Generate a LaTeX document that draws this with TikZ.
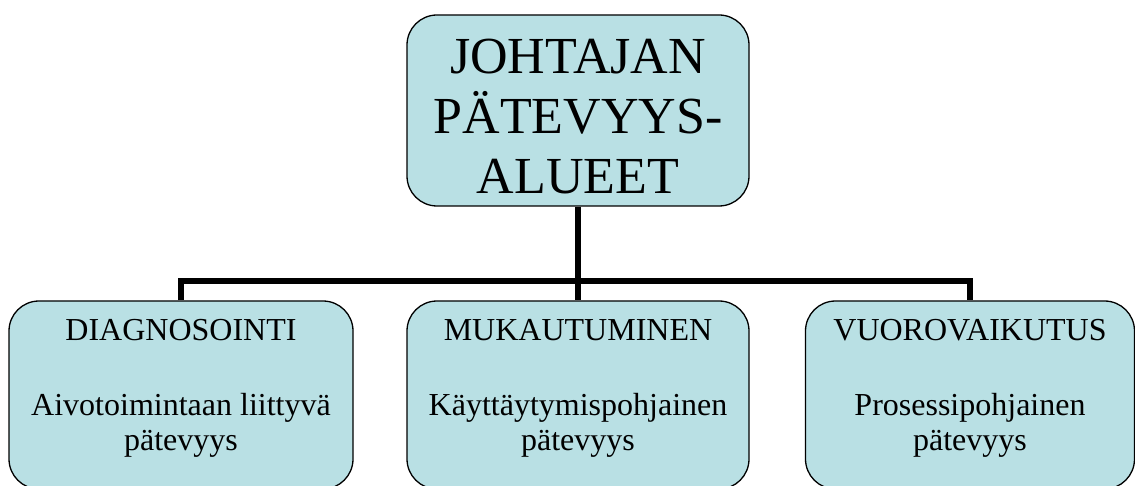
\documentclass[tikz,border=0pt]{standalone}
\usepackage{fontspec}
\setmainfont{Liberation Serif}
\definecolor{boxfill}{RGB}{185,224,228}
\newcommand{\hstrut}[1]{\rule{0pt}{#1}}
\newcommand{\dstrut}[1]{\rule[-#1]{0pt}{0pt}}
\tikzset{
  card/.style={draw=black, line width=1.3pt, fill=boxfill, rounded corners=30pt, inner sep=0pt, align=center},
  topcard/.style={card, minimum width=342pt, minimum height=191pt, font=\fontsize{52}{60}\selectfont},
  subcard/.style={card, minimum height=188pt, font=\fontsize{32}{35}\selectfont},
  conn/.style={line width=6pt, line cap=butt}
}
\begin{document}
\begin{tikzpicture}[x=1pt,y=-1pt]
\useasboundingbox (0,0) rectangle (1135,486);
\node[topcard] (top) at (578,110.5) {\hstrut{46pt}JOHTAJAN\\PÄTEVYYS-\\ALUEET};
\node[subcard, minimum width=344pt] (diag) at (181,395) {DIAGNOSOINTI\\[40pt]Aivotoimintaan liittyvä\\pätevyys\dstrut{21pt}};
\node[subcard, minimum width=342pt] (muk) at (578,395) {MUKAUTUMINEN\\[40pt]Käyttäytymispohjainen\\pätevyys\dstrut{21pt}};
\node[subcard, minimum width=329pt] (vuo) at (970,395) {VUOROVAIKUTUS\\[40pt]Prosessipohjainen\\pätevyys\dstrut{21pt}};
\coordinate (bus) at (578,281);
\draw[conn] (top.south) -- (bus);
\draw[conn] (diag.north) |- (bus) -| (vuo.north);
\draw[conn] (bus) -- (muk.north);
\end{tikzpicture}
\end{document}
